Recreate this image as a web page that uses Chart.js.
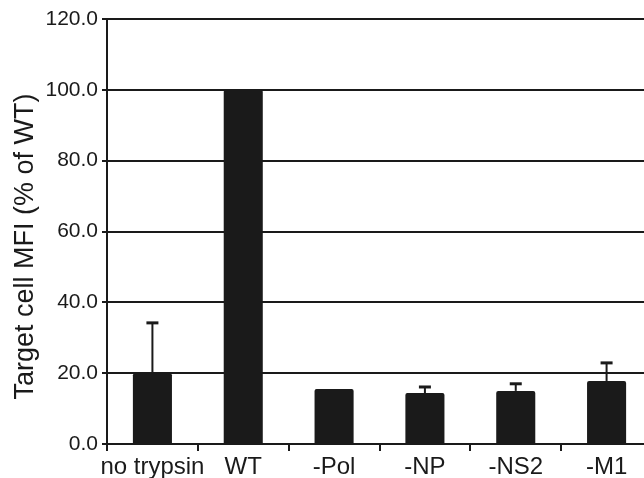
<!DOCTYPE html>
<html>
<head>
<meta charset="utf-8">
<script src="https://cdn.jsdelivr.net/npm/chart.js@4.4.1/dist/chart.umd.min.js"></script>
<style>
html,body{margin:0;padding:0;background:#fff;overflow:hidden;}
#wrap{width:660px;height:478px;}
</style>
</head>
<body>
<div id="wrap"><canvas id="c" width="660" height="478"></canvas></div>
<script>
const categories = ["no trypsin", "WT", "-Pol", "-NP", "-NS2", "-M1"];
const meanValues = [20.0, 100.0, 15.5, 14.4, 15.0, 17.8];
const errorUpper = [14.2, 0, 0, 1.7, 2.0, 5.1];
const yTicks = [0, 20, 40, 60, 80, 100, 120];
const yTitle = 'Target cell MFI (% of WT)';

const errorBarPlugin = {
  id: 'errorBars',
  afterDatasetsDraw(chart) {
    const ctx = chart.ctx;
    const meta = chart.getDatasetMeta(0);
    const y = chart.scales.y;
    ctx.save();
    ctx.strokeStyle = '#1a1a1a';
    meta.data.forEach((bar, i) => {
      const e = errorUpper[i];
      if (!e) return;
      const x = bar.x;
      const y0 = y.getPixelForValue(meanValues[i]);
      const y1 = y.getPixelForValue(meanValues[i] + e);
      ctx.lineWidth = 2;
      ctx.beginPath();
      ctx.moveTo(x, y0);
      ctx.lineTo(x, y1);
      ctx.stroke();
      ctx.lineWidth = 3;
      ctx.beginPath();
      ctx.moveTo(x - 6, y1);
      ctx.lineTo(x + 6, y1);
      ctx.stroke();
    });
    ctx.restore();
  }
};

const yTitlePlugin = {
  id: 'yTitle',
  afterDraw(chart) {
    const ctx = chart.ctx;
    const a = chart.chartArea;
    ctx.save();
    ctx.translate(33, (a.top + a.bottom) / 2 + 15);
    ctx.rotate(-Math.PI / 2);
    ctx.textAlign = 'center';
    ctx.textBaseline = 'alphabetic';
    ctx.fillStyle = '#1a1a1a';
    ctx.font = '27px "Liberation Sans", Arial, sans-serif';
    ctx.fillText(yTitle, 0, 0);
    ctx.restore();
  }
};

new Chart(document.getElementById('c'), {
  type: 'bar',
  data: {
    labels: categories,
    datasets: [{
      data: meanValues,
      backgroundColor: '#1a1a1a',
      borderWidth: 0,
      borderRadius: 2,
      borderSkipped: 'bottom',
      barPercentage: 0.43,
      categoryPercentage: 1.0
    }]
  },
  options: {
    responsive: false,
    animation: false,
    devicePixelRatio: 1,
    layout: { padding: { top: 19, right: 8, left: 0, bottom: 0 } },
    plugins: { legend: { display: false }, tooltip: { enabled: false } },
    scales: {
      x: {
        border: { display: true, color: '#1a1a1a', width: 2 },
        grid: { display: true, drawOnChartArea: false, drawTicks: true, tickLength: 7, color: '#1a1a1a', lineWidth: 2, offset: true },
        ticks: { color: '#1a1a1a', font: { family: 'Liberation Sans, Arial, sans-serif', size: 24 }, padding: 2, maxRotation: 0, autoSkip: false },
        afterFit(axis) { axis.height = 34; }
      },
      y: {
        min: 0, max: 120,
        afterBuildTicks(axis) { axis.ticks = yTicks.map(v => ({ value: v })); },
        border: { display: true, color: '#1a1a1a', width: 2 },
        grid: { color: '#1a1a1a', lineWidth: 2, drawTicks: true, tickLength: 5 },
        ticks: {
          color: '#1a1a1a',
          font: { family: 'Liberation Sans, Arial, sans-serif', size: 21 },
          padding: 4,
          callback: (v) => Number(v).toFixed(1)
        },
        title: { display: false },
        afterFit(axis) { axis.width = 107; }
      }
    }
  },
  plugins: [errorBarPlugin, yTitlePlugin]
});
</script>
</body>
</html>
